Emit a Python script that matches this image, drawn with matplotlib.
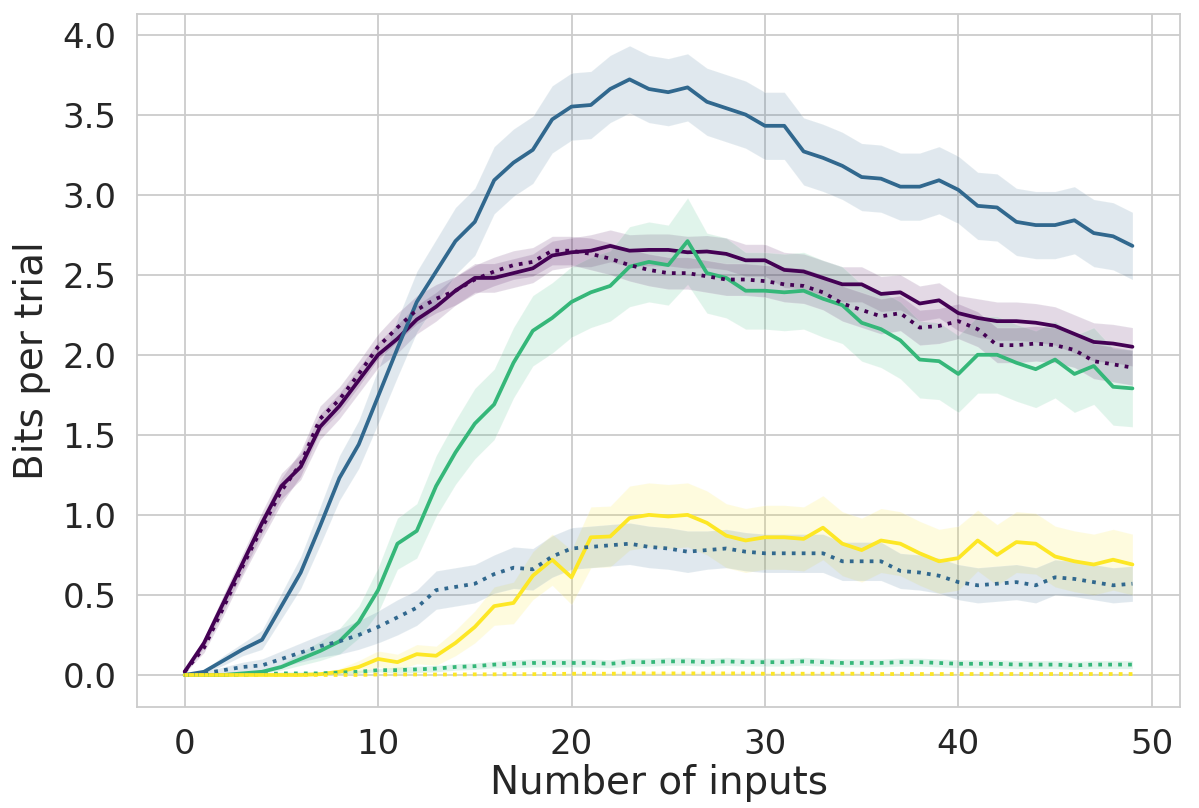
import numpy as np
import matplotlib
matplotlib.use("Agg")
import matplotlib.pyplot as plt
import seaborn as sns

x = list(range(50))

purple_solid = [0.02,0.2,0.45,0.7,0.95,1.18,1.3,1.55,1.68,1.84,2.0,2.1,2.22,2.3,2.4,2.48,2.48,2.51,2.54,2.62,
                2.64,2.65,2.68,2.65,2.655,2.655,2.64,2.645,2.63,2.59,2.59,2.53,2.52,2.48,2.44,2.44,2.38,2.39,2.32,2.34,
                2.26,2.23,2.21,2.21,2.2,2.18,2.13,2.08,2.07,2.05]
purple_dotted = [0.02,0.17,0.42,0.68,0.92,1.15,1.32,1.6,1.72,1.88,2.05,2.17,2.28,2.35,2.4,2.47,2.52,2.56,2.58,2.65,
                 2.65,2.63,2.6,2.56,2.53,2.51,2.51,2.49,2.47,2.47,2.46,2.44,2.43,2.39,2.32,2.28,2.24,2.26,2.17,2.18,
                 2.21,2.16,2.06,2.06,2.07,2.06,2.03,1.96,1.94,1.92]
blue_solid = [0.0,0.02,0.09,0.16,0.22,0.43,0.64,0.93,1.23,1.44,1.74,2.04,2.33,2.52,2.71,2.83,3.09,3.2,3.28,3.47,
              3.55,3.56,3.66,3.72,3.66,3.64,3.67,3.58,3.54,3.5,3.43,3.43,3.27,3.23,3.18,3.11,3.1,3.05,3.05,3.09,
              3.03,2.93,2.92,2.83,2.81,2.81,2.84,2.76,2.74,2.68]
blue_dotted = [0.0,0.01,0.03,0.05,0.06,0.1,0.14,0.18,0.21,0.25,0.3,0.36,0.42,0.53,0.55,0.57,0.63,0.67,0.66,0.74,
               0.79,0.8,0.81,0.82,0.8,0.79,0.77,0.78,0.79,0.77,0.76,0.76,0.76,0.76,0.71,0.71,0.71,0.65,0.64,0.62,
               0.58,0.56,0.57,0.58,0.56,0.61,0.6,0.58,0.56,0.57]
green_solid = [0.0,0.0,0.0,0.01,0.02,0.05,0.1,0.15,0.21,0.33,0.53,0.82,0.9,1.18,1.39,1.57,1.69,1.95,2.15,2.23,
               2.33,2.39,2.43,2.55,2.58,2.56,2.71,2.51,2.48,2.4,2.4,2.39,2.4,2.35,2.31,2.2,2.16,2.09,1.97,1.96,
               1.88,2.0,2.0,1.95,1.91,1.97,1.88,1.93,1.8,1.79]
green_dotted = [0.0,0.0,0.0,0.0,0.005,0.01,0.01,0.01,0.015,0.02,0.03,0.03,0.035,0.04,0.05,0.055,0.065,0.07,0.075,0.075,
                0.075,0.075,0.07,0.08,0.08,0.085,0.085,0.08,0.085,0.08,0.08,0.08,0.085,0.08,0.075,0.075,0.075,0.08,0.08,0.075,
                0.07,0.07,0.07,0.065,0.065,0.065,0.06,0.065,0.065,0.065]
yellow_solid = [0.0,0.0,0.0,0.0,0.0,0.0,0.0,0.005,0.02,0.05,0.1,0.08,0.13,0.12,0.2,0.3,0.43,0.45,0.62,0.72,
                0.61,0.86,0.865,0.98,1.0,0.99,1.0,0.95,0.87,0.84,0.86,0.86,0.85,0.92,0.82,0.78,0.84,0.82,0.76,0.71,
                0.73,0.84,0.75,0.83,0.82,0.74,0.71,0.69,0.72,0.69]
yellow_dotted = [0.0,0.0,0.0,0.0,0.0,0.0,0.0,0.0,0.0,0.0,0.003,0.003,0.003,0.003,0.003,0.004,0.004,0.005,0.005,0.006,
                 0.008,0.008,0.008,0.01,0.01,0.01,0.01,0.01,0.01,0.01,0.008,0.008,0.008,0.008,0.008,0.008,0.006,0.006,0.006,0.006,
                 0.006,0.006,0.006,0.006,0.006,0.006,0.006,0.006,0.006,0.006]

# confidence band half-widths
purple_solid_hw = [0.01,0.03,0.05,0.06,0.07,0.08,0.08,0.08,0.08,0.08,0.08,0.09,0.09,0.09,0.09,0.09,0.09,0.09,0.09,0.09,
                   0.09,0.1,0.1,0.1,0.1,0.1,0.1,0.1,0.1,0.1,0.1,0.11,0.11,0.11,0.11,0.11,0.11,0.11,0.11,0.11,
                   0.11,0.12,0.12,0.12,0.12,0.12,0.12,0.12,0.12,0.12]
purple_dotted_hw = [0.01,0.03,0.05,0.06,0.07,0.08,0.08,0.08,0.08,0.08,0.08,0.09,0.09,0.09,0.09,0.09,0.09,0.09,0.09,0.09,
                    0.09,0.1,0.1,0.1,0.1,0.1,0.1,0.1,0.1,0.1,0.1,0.11,0.11,0.11,0.11,0.11,0.11,0.11,0.11,0.11,
                    0.11,0.11,0.11,0.11,0.11,0.11,0.11,0.11,0.11,0.11]
blue_solid_hw = [0.005,0.01,0.03,0.04,0.06,0.08,0.1,0.12,0.14,0.15,0.17,0.18,0.19,0.2,0.21,0.21,0.21,0.21,0.21,0.21,
                 0.21,0.21,0.21,0.21,0.21,0.21,0.21,0.21,0.21,0.21,0.21,0.21,0.21,0.21,0.21,0.21,0.21,0.21,0.21,0.21,
                 0.21,0.21,0.21,0.21,0.21,0.21,0.21,0.21,0.21,0.21]
blue_dotted_hw = [0.005,0.01,0.02,0.03,0.04,0.05,0.06,0.07,0.08,0.09,0.1,0.11,0.11,0.12,0.12,0.12,0.12,0.13,0.13,0.13,
                  0.13,0.13,0.13,0.13,0.13,0.13,0.13,0.12,0.12,0.12,0.12,0.12,0.12,0.12,0.12,0.12,0.12,0.11,0.11,0.11,
                  0.11,0.11,0.11,0.11,0.11,0.11,0.11,0.11,0.11,0.11]
green_solid_hw = [0.005,0.005,0.005,0.005,0.01,0.02,0.04,0.06,0.08,0.1,0.14,0.16,0.17,0.19,0.2,0.22,0.22,0.22,0.22,0.22,
                  0.22,0.22,0.22,0.25,0.25,0.25,0.27,0.25,0.25,0.24,0.24,0.24,0.24,0.24,0.24,0.24,0.24,0.24,0.24,0.24,
                  0.24,0.24,0.24,0.24,0.24,0.24,0.24,0.24,0.24,0.24]
green_dotted_hw = [0.003,0.003,0.003,0.003,0.003,0.01,0.01,0.01,0.01,0.01,0.01,0.02,0.02,0.02,0.02,0.02,0.02,0.025,0.025,0.025,
                   0.025,0.025,0.025,0.025,0.025,0.025,0.025,0.025,0.025,0.025,0.025,0.025,0.025,0.025,0.025,0.025,0.025,0.025,0.025,0.025,
                   0.025,0.025,0.025,0.025,0.025,0.025,0.025,0.025,0.025,0.025]
yellow_solid_hw = [0.003,0.003,0.003,0.003,0.003,0.003,0.003,0.01,0.02,0.04,0.05,0.05,0.06,0.06,0.08,0.1,0.12,0.13,0.15,0.16,
                   0.17,0.19,0.19,0.2,0.2,0.2,0.2,0.2,0.2,0.2,0.2,0.2,0.2,0.2,0.2,0.2,0.2,0.2,0.2,0.2,
                   0.2,0.19,0.19,0.19,0.19,0.19,0.19,0.19,0.19,0.19]
yellow_dotted_hw = [0.002]*10 + [0.004]*10 + [0.008]*20 + [0.006]*10

C_PURPLE = "#440154"
C_BLUE = "#31688e"
C_GREEN = "#35b779"
C_YELLOW = "#fde725"

series = [
    (purple_solid, purple_solid_hw, C_PURPLE, "-"),
    (blue_solid, blue_solid_hw, C_BLUE, "-"),
    (green_solid, green_solid_hw, C_GREEN, "-"),
    (yellow_solid, yellow_solid_hw, C_YELLOW, "-"),
    (purple_dotted, purple_dotted_hw, C_PURPLE, ":"),
    (blue_dotted, blue_dotted_hw, C_BLUE, ":"),
    (green_dotted, green_dotted_hw, C_GREEN, ":"),
    (yellow_dotted, yellow_dotted_hw, C_YELLOW, ":"),
]

sns.set_theme(style="whitegrid")
plt.rcParams['font.family'] = ['DejaVu Sans']

fig = plt.figure(figsize=(11.99, 8.08), dpi=100)
ax = fig.add_axes([0.1145, 0.125, 0.8695, 0.858])

xa = np.array(x)
for vals, hw, col, ls in series:
    v = np.array(vals)
    h = np.array(hw)
    ax.fill_between(xa, v - h, v + h, color=col, alpha=0.15, edgecolor="white", linewidth=0.8)
for vals, hw, col, ls in series:
    ax.plot(xa, vals, color=col, linestyle=ls, linewidth=2.7)

ax.set_xlabel("Number of inputs", fontsize=28, color="#262626", labelpad=2)
ax.set_ylabel("Bits per trial", fontsize=28, color="#262626", labelpad=8)
ax.set_xticks([0, 10, 20, 30, 40, 50])
ax.set_yticks([0.0, 0.5, 1.0, 1.5, 2.0, 2.5, 3.0, 3.5, 4.0])
ax.set_yticklabels(["0.0", "0.5", "1.0", "1.5", "2.0", "2.5", "3.0", "3.5", "4.0"])
ax.tick_params(labelsize=24.5, colors="#262626", pad=9)
ax.margins(x=0.05)
ax.set_ylim(-0.2, 4.13)
for s in ax.spines.values():
    s.set_color("#cccccc")
    s.set_linewidth(1.3)
ax.grid(color="#cccccc", linewidth=1.3)

fig.savefig("out.png", dpi=100)
